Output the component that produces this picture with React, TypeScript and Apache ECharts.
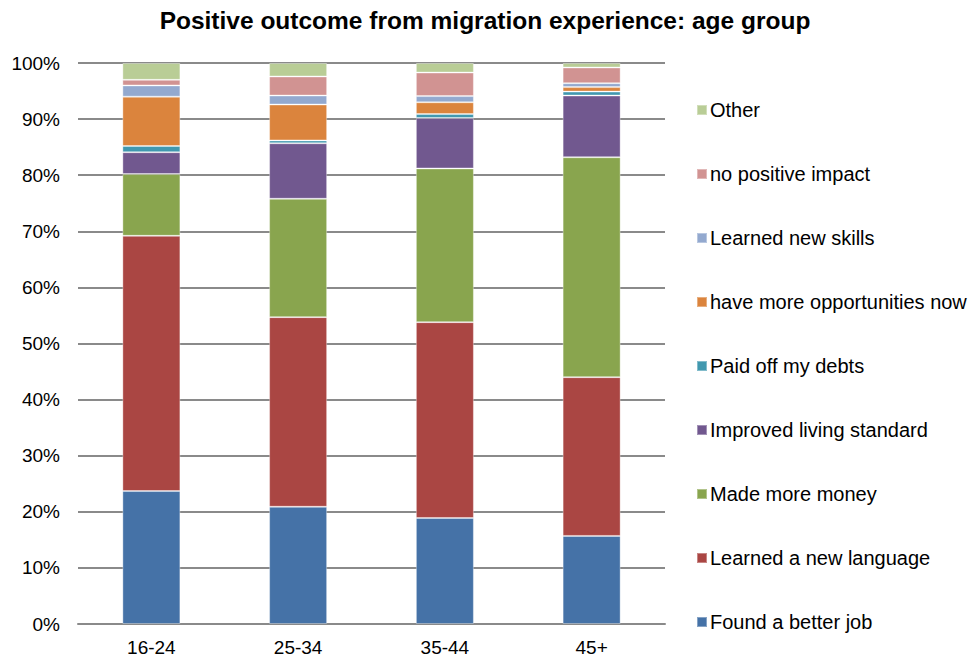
import React, { useEffect, useRef } from "react";
import * as echarts from "echarts";

const categories = ["16-24", "25-34", "35-44", "45+"];
const seriesNames = [
  "Found a better job",
  "Learned a new language",
  "Made more money",
  "Improved living standard",
  "Paid off my debts",
  "have more opportunities now",
  "Learned new skills",
  "no positive impact",
  "Other",
];
const foundBetterJob = [23.7, 20.9, 18.9, 15.7];
const learnedLanguage = [45.5, 33.8, 34.9, 28.3];
const madeMoreMoney = [11.0, 21.1, 27.4, 39.2];
const improvedLiving = [3.9, 9.9, 9.0, 11.0];
const paidDebts = [1.1, 0.5, 0.7, 0.7];
const moreOpportunities = [8.8, 6.4, 2.1, 0.8];
const learnedSkills = [2.0, 1.6, 1.1, 0.7];
const noPositiveImpact = [1.0, 3.4, 4.2, 2.8];
const other = [3.0, 2.4, 1.7, 0.8];
const yTicks = [0, 10, 20, 30, 40, 50, 60, 70, 80, 90, 100];

const seriesData = [
  foundBetterJob,
  learnedLanguage,
  madeMoreMoney,
  improvedLiving,
  paidDebts,
  moreOpportunities,
  learnedSkills,
  noPositiveImpact,
  other,
];
const colors = [
  "#4572A7",
  "#AA4643",
  "#89A54E",
  "#71588F",
  "#4198AF",
  "#DB843D",
  "#93A9CF",
  "#D19392",
  "#B9CD96",
];

export default function App() {
  const ref = useRef<HTMLDivElement>(null);
  useEffect(() => {
    if (!ref.current) return;
    const chart = echarts.init(ref.current, undefined, { renderer: "svg" });
    const font = "Liberation Sans, Arial, sans-serif";
    chart.setOption({
      animation: false,
      backgroundColor: "#ffffff",
      color: colors,
      title: {
        text: "Positive outcome from migration experience: age group",
        left: "center",
        top: 3,
        textStyle: { fontFamily: font, fontSize: 24.5, fontWeight: "bold", color: "#000" },
      },
      legend: {
        orient: "vertical",
        left: 696,
        top: 100,
        padding: 0,
        itemWidth: 10,
        itemHeight: 10,
        itemGap: 44,
        icon: "rect",
        data: [...seriesNames].reverse(),
        textStyle: { fontFamily: font, fontSize: 20, color: "#000", lineHeight: 20, padding: [0, 0, 0, -2] },
      },
      grid: { left: 78, right: 305, top: 63, bottom: 37, containLabel: false },
      xAxis: {
        type: "category",
        data: categories,
        axisLine: { show: true, lineStyle: { color: "#8a8a8a", width: 2 } },
        axisTick: { show: false },
        axisLabel: { fontFamily: font, fontSize: 19, color: "#000", margin: 14 },
      },
      yAxis: {
        type: "value",
        min: yTicks[0],
        max: yTicks[yTicks.length - 1],
        interval: 10,
        axisLine: { show: false },
        axisTick: { show: false },
        axisLabel: { fontFamily: font, fontSize: 19, color: "#000", margin: 18, formatter: "{value}%" },
        splitLine: { lineStyle: { color: "#8a8a8a", width: 2 } },
      },
      series: seriesNames.map((name, i) => ({
        name,
        type: "bar",
        stack: "total",
        barWidth: 58,
        data: seriesData[i],
        itemStyle: { borderColor: "rgba(255,255,255,0.35)", borderWidth: 1 },
      })),
    });
    return () => chart.dispose();
  }, []);
  return (
    <div
      ref={ref}
      style={{ position: "absolute", left: 0, top: 0, width: 970, height: 661 }}
    />
  );
}
